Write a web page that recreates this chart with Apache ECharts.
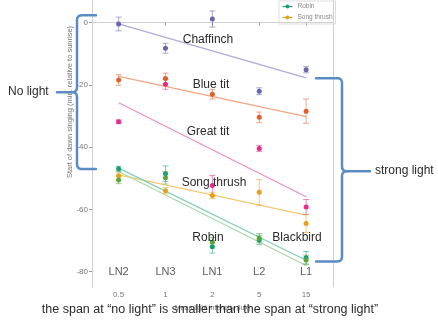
<!DOCTYPE html>
<html><head><meta charset="utf-8">
<script src="https://cdn.jsdelivr.net/npm/echarts@6/dist/echarts.min.js"></script>
<style>html,body{margin:0;padding:0;background:#fff}#c{width:438px;height:323px}</style>
</head><body><div id="c"></div>
<script>
// ---- data ----
const xLabels = ['0.5', '1', '2', '5', '15'];
const lightLabels = ['LN2', 'LN3', 'LN1', 'L2', 'L1'];
const yTicks = [-80, -60, -40, -20, 0];
const speciesNames = ['Chaffinch', 'Blue tit', 'Great tit', 'Song thrush', 'Robin', 'Blackbird'];

const chaffinchMean = [-0.4, -8.2, 1.2, -22.0, -15.1];
const chaffinchErr  = [2.2, 1.6, 2.6, 1.1, 1.0];
const chaffinchFit  = [-0.4, -17.7];

const blueTitMean = [-18.4, -17.9, -23.0, -30.4, -28.4];
const blueTitErr  = [1.7, 1.7, 1.5, 1.7, 3.9];
const blueTitFit  = [-17.2, -30.2];

const greatTitMean = [-31.8, -19.8, -52.3, -40.4, -59.2];
const greatTitErr  = [0.6, 1.6, 3.2, 1.0, 2.4];
const greatTitFit  = [-25.7, -55.9];

const songThrushMean = [-49.2, -54.0, -55.5, -54.5, -64.5];
const songThrushErr  = [1.2, 1.0, 1.0, 4.1, 2.9];
const songThrushFit  = [-48.9, -61.8];

const robinMean = [-46.9, -48.5, -72.0, -69.8, -75.5];
const robinErr  = [0.8, 2.5, 2.0, 1.5, 2.0];
const robinFit  = [-46.7, -76.3];

const blackbirdMean = [-50.5, -49.8, -70.5, -69.2, -76.2];
const blackbirdErr  = [1.2, 2.0, 1.5, 1.5, 1.5];
const blackbirdFit  = [-47.8, -78.0];

// annotation spans (value units): top, middle, bottom
const noLightSpan = [2.4, -22.3, -47.0];
const strongLightSpan = [-17.8, -47.7, -76.7];

// ---- styling ----
const pointColors = ['#6a63b0', '#e0602a', '#e7298a', '#e6a020', '#1b9e77', '#5aa83c'];
const fitColors   = ['#aeaad8', '#f2a684', '#f28cc0', '#f2c878', '#7fd0b4', '#add8a0'];

const means = [chaffinchMean, blueTitMean, greatTitMean, songThrushMean, robinMean, blackbirdMean];
const errs  = [chaffinchErr, blueTitErr, greatTitErr, songThrushErr, robinErr, blackbirdErr];
const fits  = [chaffinchFit, blueTitFit, greatTitFit, songThrushFit, robinFit, blackbirdFit];

const series = [];
speciesNames.forEach((name, i) => {
  series.push({
    name: name + ' fit', type: 'line', silent: true, symbol: 'none', z: 2,
    data: [[1, fits[i][0]], [xLabels.length, fits[i][1]]],
    lineStyle: { color: fitColors[i], width: 1.3 }
  });
  series.push({
    name: name + ' err', type: 'custom', silent: true, z: 3,
    data: means[i].map((m, j) => [j + 1, m, errs[i][j]]),
    encode: { x: 0, y: 1 },
    renderItem: (params, api) => {
      const x = api.value(0), y = api.value(1), e = api.value(2);
      const t = api.coord([x, y + e]), b = api.coord([x, y - e]);
      const w = 3;
      const st = { stroke: pointColors[i], lineWidth: 1, opacity: 0.55 };
      return { type: 'group', children: [
        { type: 'line', shape: { x1: t[0], y1: t[1], x2: b[0], y2: b[1] }, style: st },
        { type: 'line', shape: { x1: t[0] - w, y1: t[1], x2: t[0] + w, y2: t[1] }, style: st },
        { type: 'line', shape: { x1: b[0] - w, y1: b[1], x2: b[0] + w, y2: b[1] }, style: st }
      ]};
    }
  });
  series.push({
    name: name, type: 'line', z: 4, symbol: 'circle', symbolSize: 5, showSymbol: true,
    data: means[i].map((m, j) => [j + 1, m]),
    itemStyle: { color: pointColors[i] },
    lineStyle: { color: pointColors[i], opacity: 0 }
  });
});
series.push({
  name: 'light', type: 'scatter', silent: true, symbolSize: 0, z: 5,
  data: lightLabels.map((l, j) => [j + 1, -80]),
  label: { show: true, position: 'inside', formatter: p => lightLabels[p.dataIndex],
           fontSize: 11, color: '#333', fontFamily: 'Liberation Sans' }
});

const chart = echarts.init(document.getElementById('c'), null, { renderer: 'canvas' });
const axisGray = '#d0d0d0';
chart.setOption({
  animation: false,
  backgroundColor: '#fff',
  grid: { left: 92, right: 105, top: 0, bottom: 36 },
  legend: {
    orient: 'vertical', left: 279, top: 1, itemGap: 4, itemWidth: 10, itemHeight: 5,
    padding: [2, 3, 3, 3], borderColor: '#ddd', borderWidth: 1,
    textStyle: { fontSize: 6.5, color: '#888', fontFamily: 'Liberation Sans' },
    data: [{ name: 'Robin', lineStyle: { opacity: 1, width: 1 } },
           { name: 'Song thrush', lineStyle: { opacity: 1, width: 1 } }]
  },
  xAxis: {
    type: 'value', min: 0.432, max: 5.574,
    name: 'Mean light intensity (lux)', nameLocation: 'middle', nameGap: 18,
    nameTextStyle: { fontSize: 7, color: '#777', fontFamily: 'Liberation Sans' },
    axisLine: { show: true, lineStyle: { color: axisGray } },
    axisTick: { show: true, length: 3, lineStyle: { color: '#999' }, customValues: [1, 2, 3, 4, 5] },
    axisLabel: { fontSize: 8, color: '#777', margin: 4, customValues: [1, 2, 3, 4, 5],
                 formatter: v => xLabels[Math.round(v) - 1] },
    splitLine: { show: false }
  },
  yAxis: [{
    type: 'value', min: -84.9, max: 7.3,
    axisLine: { show: true, lineStyle: { color: axisGray } },
    axisTick: { show: true, length: 3, lineStyle: { color: '#999' }, customValues: yTicks },
    axisLabel: { fontSize: 8, color: '#777', margin: 4, customValues: yTicks },
    splitLine: { show: false }
  }, {
    type: 'value', min: -84.9, max: 7.3, position: 'right',
    axisLine: { show: true, lineStyle: { color: axisGray } },
    axisTick: { show: false }, axisLabel: { show: false }, splitLine: { show: false }
  }],
  series: series
});

// ---- annotations ----
function quad(p0, c, p1, n) {
  const pts = [];
  for (let k = 1; k <= n; k++) {
    const t = k / n, u = 1 - t;
    pts.push([u*u*p0[0] + 2*u*t*c[0] + t*t*p1[0], u*u*p0[1] + 2*u*t*c[1] + t*t*p1[1]]);
  }
  return pts;
}
function brace(xv, span, dir, arm, tip) {
  const yT = chart.convertToPixel({ yAxisIndex: 0 }, span[0]);
  const yM = chart.convertToPixel({ yAxisIndex: 0 }, span[1]);
  const yB = chart.convertToPixel({ yAxisIndex: 0 }, span[2]);
  const r = 5;
  const a = [[xv - dir * arm, yT], [xv - dir * r, yT]]
    .concat(quad([xv - dir * r, yT], [xv, yT], [xv, yT + r], 6))
    .concat([[xv, yM - r]])
    .concat(quad([xv, yM - r], [xv, yM], [xv + dir * r, yM], 6))
    .concat([[xv + dir * tip, yM]]);
  const b = [[xv + dir * r, yM]]
    .concat(quad([xv + dir * r, yM], [xv, yM], [xv, yM + r], 6))
    .concat([[xv, yB - r]])
    .concat(quad([xv, yB - r], [xv, yB], [xv - dir * r, yB], 6))
    .concat([[xv - dir * arm, yB]]);
  const st = { stroke: '#5b8cc5', lineWidth: 2.5, fill: null, lineJoin: 'round', lineCap: 'round' };
  return [
    { type: 'polyline', shape: { points: a }, style: st, z: 10 },
    { type: 'polyline', shape: { points: b }, style: st, z: 10 }
  ];
}
const txt = (x, y, s, size, align, extra) => Object.assign({
  type: 'text', x: x, y: y, z: 11,
  style: { text: s, fontSize: size, fill: '#2a2a2a', fontFamily: 'Liberation Sans',
           textAlign: align || 'center', textVerticalAlign: 'middle' }
}, extra || {});

const graphics = []
  .concat(brace(77, noLightSpan, -1, 19, 20))
  .concat(brace(342, strongLightSpan, 1, 26, 28))
  .concat([
    txt(208, 40, speciesNames[0], 12),
    txt(211, 85, speciesNames[1], 12),
    txt(208, 132, speciesNames[2], 12),
    txt(214, 183, speciesNames[3], 12),
    txt(208, 238, speciesNames[4], 12),
    txt(297, 238, speciesNames[5], 12),
    txt(8, 92, 'No light', 12, 'left'),
    txt(375, 171, 'strong light', 12, 'left'),
    txt(210, 310, 'the span at \u201cno light\u201d is smaller than the span at \u201cstrong light\u201d', 12.5),
    { type: 'text', x: 70, y: 102, rotation: Math.PI / 2, z: 11,
      style: { text: 'Start of dawn singing (min. relative to sunrise)', fontSize: 7.5, fill: '#777',
               fontFamily: 'Liberation Sans', textAlign: 'center', textVerticalAlign: 'middle' } }
  ]);
chart.setOption({ graphic: graphics });
</script>
</body></html>
